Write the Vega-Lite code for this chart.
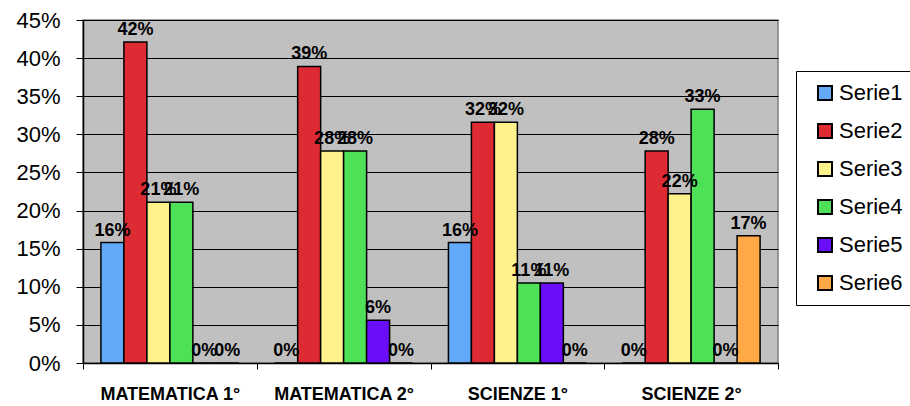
{
  "$schema": "https://vega.github.io/schema/vega-lite/v6.json",
  "width": 695,
  "height": 343,
  "autosize": {"type": "none"},
  "padding": {"left": 83, "top": 20, "right": 132, "bottom": 43},
  "background": "white",
  "config": {
    "view": {"fill": "#C0C0C0", "stroke": "#808080", "strokeWidth": 1.5},
    "font": "Liberation Sans"
  },
  "data": {
    "values": [
      {"materia": "MATEMATICA 1°", "serie": "Serie1", "valore": 0.158},
      {"materia": "MATEMATICA 1°", "serie": "Serie2", "valore": 0.421},
      {"materia": "MATEMATICA 1°", "serie": "Serie3", "valore": 0.211},
      {"materia": "MATEMATICA 1°", "serie": "Serie4", "valore": 0.211},
      {"materia": "MATEMATICA 1°", "serie": "Serie5", "valore": 0},
      {"materia": "MATEMATICA 1°", "serie": "Serie6", "valore": 0},
      {"materia": "MATEMATICA 2°", "serie": "Serie1", "valore": 0},
      {"materia": "MATEMATICA 2°", "serie": "Serie2", "valore": 0.389},
      {"materia": "MATEMATICA 2°", "serie": "Serie3", "valore": 0.278},
      {"materia": "MATEMATICA 2°", "serie": "Serie4", "valore": 0.278},
      {"materia": "MATEMATICA 2°", "serie": "Serie5", "valore": 0.056},
      {"materia": "MATEMATICA 2°", "serie": "Serie6", "valore": 0},
      {"materia": "SCIENZE 1°", "serie": "Serie1", "valore": 0.158},
      {"materia": "SCIENZE 1°", "serie": "Serie2", "valore": 0.316},
      {"materia": "SCIENZE 1°", "serie": "Serie3", "valore": 0.316},
      {"materia": "SCIENZE 1°", "serie": "Serie4", "valore": 0.105},
      {"materia": "SCIENZE 1°", "serie": "Serie5", "valore": 0.105},
      {"materia": "SCIENZE 1°", "serie": "Serie6", "valore": 0},
      {"materia": "SCIENZE 2°", "serie": "Serie1", "valore": 0},
      {"materia": "SCIENZE 2°", "serie": "Serie2", "valore": 0.278},
      {"materia": "SCIENZE 2°", "serie": "Serie3", "valore": 0.222},
      {"materia": "SCIENZE 2°", "serie": "Serie4", "valore": 0.333},
      {"materia": "SCIENZE 2°", "serie": "Serie5", "valore": 0},
      {"materia": "SCIENZE 2°", "serie": "Serie6", "valore": 0.167}
    ]
  },
  "encoding": {
    "x": {
      "field": "materia",
      "type": "nominal",
      "sort": null,
      "scale": {"paddingInner": 0, "paddingOuter": 0},
      "axis": {
        "title": null,
        "labelAngle": 0,
        "labelFont": "Liberation Sans",
        "labelFontWeight": "bold",
        "labelFontSize": 18,
        "labelColor": "black",
        "labelPadding": 16,
        "domainColor": "black",
        "domainWidth": 1.5,
        "tickColor": "black",
        "tickSize": 6,
        "tickBand": "extent"
      }
    },
    "xOffset": {
      "field": "serie",
      "type": "nominal",
      "sort": null,
      "scale": {"paddingInner": 0, "paddingOuter": 0.78}
    },
    "y": {
      "field": "valore",
      "type": "quantitative",
      "scale": {"domain": [0, 0.45], "nice": false},
      "axis": {
        "title": null,
        "values": [0, 0.05, 0.1, 0.15, 0.2, 0.25, 0.3, 0.35, 0.4, 0.45],
        "format": ".0%",
        "labelFont": "Liberation Sans",
        "labelFontSize": 22,
        "labelColor": "black",
        "labelPadding": 16,
        "tickSize": 7,
        "tickColor": "black",
        "domainColor": "black",
        "domainWidth": 1.5,
        "grid": true,
        "gridColor": "black",
        "gridWidth": 1,
        "gridOpacity": 1
      }
    }
  },
  "layer": [
    {
      "mark": {"type": "bar", "stroke": "black", "strokeWidth": 1.5},
      "encoding": {
        "color": {
          "field": "serie",
          "type": "nominal",
          "scale": {
            "domain": ["Serie1", "Serie2", "Serie3", "Serie4", "Serie5", "Serie6"],
            "range": ["#63A9FA", "#DE2B33", "#FFF28C", "#4EE158", "#6A0EFA", "#FFA845"]
          },
          "legend": {
            "title": null,
            "orient": "none",
            "legendX": 713,
            "legendY": 51,
            "padding": 11,
            "strokeColor": "black",
            "fillColor": "white",
            "symbolType": "square",
            "symbolSize": 196,
            "symbolStrokeColor": "black",
            "symbolStrokeWidth": 2,
            "symbolOffset": 7,
            "labelFont": "Liberation Sans",
            "labelFontSize": 22,
            "labelColor": "black",
            "labelOffset": 3,
            "rowPadding": 16
          }
        }
      }
    },
    {
      "mark": {
        "type": "text",
        "font": "Liberation Sans",
        "fontWeight": "bold",
        "fontSize": 18,
        "baseline": "alphabetic",
        "dy": -7,
        "color": "black"
      },
      "encoding": {
        "text": {"field": "valore", "type": "quantitative", "format": ".0%"}
      }
    }
  ]
}
